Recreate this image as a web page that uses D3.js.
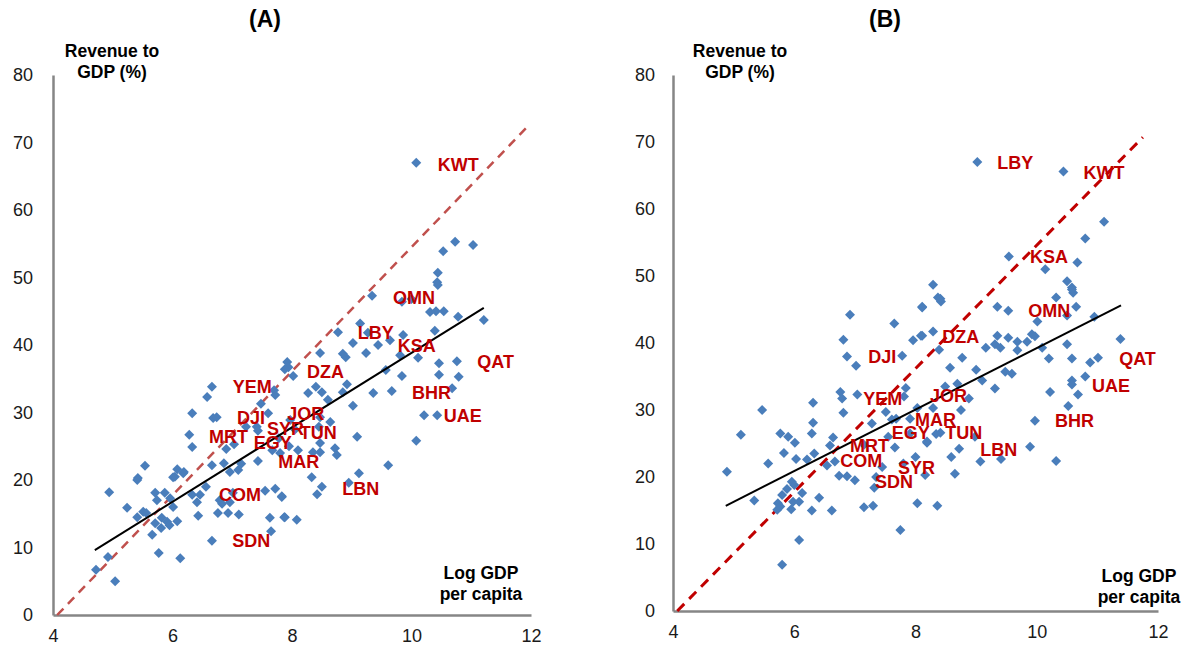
<!DOCTYPE html>
<html><head><meta charset="utf-8">
<script src="https://cdn.jsdelivr.net/npm/d3@7"></script>
<style>
body{margin:0;background:#fff;}
svg{display:block;font-family:"Liberation Sans",Arial,sans-serif;}
</style></head>
<body><svg id="c" width="1189" height="650"></svg>
<script>
// ---------- DATA ----------
const xTicks = [4, 6, 8, 10, 12];
const yTicks = [0, 10, 20, 30, 40, 50, 60, 70, 80];
const panelTitles = ["(A)", "(B)"];

const pointsA = [
[10.08,67.0],[10.53,53.9],[10.73,55.3],[11.03,54.8],[10.44,50.7],[10.43,49.3],[10.44,48.9],[9.34,47.3],[9.84,46.4],[10.0,46.8],
[10.31,44.9],[10.41,45.0],[10.54,45.0],[10.78,44.2],[11.21,43.7],[9.14,43.2],[8.77,41.9],[9.27,41.8],[9.64,40.7],[9.86,41.5],
[10.39,42.1],[9.44,40.0],[9.02,40.3],[8.47,38.8],[8.85,38.7],[8.90,38.2],[9.24,38.8],[9.81,38.5],[10.11,38.1],[10.46,37.3],
[10.76,37.6],[7.92,37.5],[7.94,36.7],[7.88,36.4],[8.02,35.4],[9.57,36.3],[9.84,35.4],[10.46,35.6],[10.79,35.3],[10.68,33.6],
[8.92,34.2],[8.40,33.8],[8.50,33.0],[8.27,32.9],[8.85,33.0],[9.36,32.9],[9.67,33.2],[8.60,31.9],[9.02,31.0],[10.21,29.6],
[10.43,29.6],[7.97,28.9],[8.47,29.3],[8.64,28.6],[8.45,27.9],[9.09,26.4],[10.08,25.8],[8.47,25.5],[8.10,24.4],[8.35,24.1],
[8.47,24.1],[8.72,24.7],[8.75,23.7],[9.61,22.2],[9.12,21.0],[8.33,20.4],[8.50,19.0],[8.42,17.9],[8.95,19.6],[7.83,17.5],
[7.87,14.5],[8.08,14.1],
[6.66,33.8],[6.58,32.3],[7.70,33.3],[7.72,32.6],[6.33,29.9],[6.68,29.2],[6.74,29.3],[7.48,31.3],[7.60,29.9],[7.23,27.9],
[7.41,27.9],[7.43,27.3],[6.28,26.7],[6.33,24.9],[7.03,25.3],[6.90,24.6],[7.43,22.8],[6.66,22.2],[6.86,22.5],[7.15,22.4],
[7.67,24.4],[7.80,24.0],[5.54,22.1],[6.08,21.6],[6.19,21.2],[6.96,21.2],[7.10,21.5],[5.42,20.3],[6.01,20.4],[7.95,25.0],
[8.05,27.5],[7.78,26.2],
[5.41,20.0],[4.94,18.2],[5.71,18.1],[5.87,18.1],[5.74,17.0],[5.96,17.3],[6.04,20.5],[6.18,21.0],[6.33,17.8],[6.46,17.8],
[6.41,16.7],[6.56,19.0],[6.01,16.0],[5.24,15.9],[5.51,15.3],[5.56,15.1],[5.41,14.5],[5.82,14.4],[5.91,13.8],[5.71,13.6],
[5.81,12.9],[5.95,13.3],[6.08,13.9],[5.66,11.9],[6.43,14.7],[6.76,15.1],[6.93,15.1],[7.11,14.9],[6.79,17.0],[6.83,16.5],
[6.96,16.7],[7.01,18.1],[6.66,11.0],[5.77,9.2],[6.13,8.4],[4.92,8.6],[4.72,6.7],[5.04,5.0],[7.55,18.4],[7.72,18.7],
[7.83,17.6],[7.63,14.4],[7.88,14.5],[7.65,12.4]
];

const pointsB = [
[8.29,48.7],[8.37,46.8],[9.02,67.0],[10.44,65.6],[11.11,58.1],[10.80,55.6],[9.54,52.9],[10.67,52.0],[10.14,51.0],[10.50,49.2],
[10.58,48.3],[10.60,47.5],[10.32,46.8],[8.41,46.6],[10.58,48.0],[8.42,46.2],[8.11,45.4],[9.35,45.4],[9.53,44.8],[10.65,45.4],
[10.50,44.1],[10.95,43.9],[10.01,43.2],[8.29,41.7],[8.11,41.1],[9.35,41.1],[9.53,40.8],[9.92,41.3],[9.97,41.0],[9.68,40.2],
[9.84,40.2],[11.38,40.6],[10.50,39.8],[9.31,39.8],[9.40,39.3],[9.16,39.3],[10.09,39.3],[9.68,38.9],[8.39,39.0],[8.77,37.8],
[10.20,37.7],[10.58,37.7],[11.01,37.8],[10.88,37.1],[8.57,36.3],[9.00,36.0],[9.48,35.7],[9.59,35.4],[9.10,34.4],[10.80,35.0],
[10.58,34.4],[10.58,33.8],[8.49,33.5],[8.69,33.9],[9.31,33.2],[10.22,32.7],[10.68,32.3],[8.88,31.7],[10.52,30.6],[8.29,30.3],
[8.75,30.0],[9.97,28.4],[8.41,26.6],[8.19,25.1],[8.72,24.2],[9.89,24.5],[8.98,26.0],[8.59,23.0],[9.07,22.3],[9.41,22.7],
[10.32,22.4],[8.65,20.5],
[8.11,45.3],[6.92,44.2],[7.65,42.9],[8.09,41.1],[7.96,40.4],[6.81,40.5],[7.78,38.1],[6.87,38.0],[7.02,36.6],[7.84,33.3],
[7.81,32.0],[6.76,32.7],[6.79,31.7],[7.04,32.3],[6.31,31.1],[5.47,30.0],[6.81,29.6],[6.31,28.1],[7.28,28.0],[7.51,29.7],
[7.61,28.6],[7.68,28.7],[7.91,28.7],[8.03,30.3],[5.12,26.3],[5.77,26.5],[5.90,26.0],[6.29,26.5],[6.01,25.1],[6.64,25.9],
[6.59,24.7],[5.83,23.6],[6.33,23.5],[6.03,22.7],[6.21,22.6],[5.57,22.0],[6.67,22.3],[6.54,21.7],[4.89,20.8],[7.66,24.4],
[8.19,25.3],[7.91,26.5],[8.34,26.4],[7.15,24.8],[6.74,20.2],[6.87,20.1],
[5.34,16.5],[5.96,19.3],[6.00,18.8],[5.88,18.2],[5.80,17.3],[6.13,17.6],[5.73,16.1],[5.98,16.3],[6.08,16.3],[5.72,15.1],
[5.77,15.6],[5.95,15.2],[6.41,16.9],[6.29,15.0],[6.62,15.0],[7.00,19.5],[7.32,18.4],[7.15,15.5],[7.30,15.7],[6.08,10.6],
[5.80,6.9],[7.75,12.1],[8.03,16.1],[8.36,15.7],[8.16,20.3],[7.45,21.5],[7.80,22.0],[8.00,23.0],[7.55,26.0],[7.35,20.0]
];

// country labels: [name, x, y] in data units (left anchor, vertical center)
const labelsA = [
["KWT",10.44,66.7],["OMN",9.69,47.1],["LBY",9.10,41.9],["KSA",9.77,39.9],["QAT",11.10,37.5],["DZA",8.25,36.1],
["BHR",10.01,33.0],["UAE",10.54,29.6],["JOR",7.92,29.9],["SYR",7.58,27.7],["TUN",8.13,27.1],["YEM",7.01,33.8],
["DJI",7.08,29.3],["MRT",6.61,26.4],["EGY",7.36,25.5],["MAR",7.77,22.7],["COM",6.78,17.8],["SDN",7.00,11.0],["LBN",8.84,18.7]
];
const labelsB = [
["LBY",9.35,67.0],["KWT",10.77,65.5],["KSA",9.89,52.9],["OMN",9.86,44.8],["DZA",8.44,41.0],["DJI",7.22,38.0],
["QAT",11.36,37.7],["UAE",10.91,33.6],["YEM",7.14,31.7],["JOR",8.24,32.1],["MAR",7.99,28.6],["BHR",10.30,28.4],
["TUN",8.49,26.6],["EGY",7.61,26.6],["LBN",9.07,24.1],["MRT",6.92,24.7],["COM",6.76,22.4],["SYR",7.71,21.4],["SDN",7.33,19.3]
];

// fitted line and reference (dashed) line end points
const fitA = [[4.70,9.6],[11.21,45.5]];
const refA = [[4.07,0],[11.98,72.7]];
const fitB = [[4.87,15.7],[11.39,45.6]];
const refB = [[4.07,0],[11.75,70.7]];

// ---------- DRAW ----------
const svg = d3.select("#c");

const panels = [
  {title:panelTitles[0], pts:pointsA, labels:labelsA, fit:fitA, ref:refA,
   xr:[53,531], yr:[615,75], titleX:265, refColor:"#C0504D", refW:2.5, refDash:"9,6.5",
   yPad:20, yTitleX:112, xTitleX:481, xTitleY:[573,594]},
  {title:panelTitles[1], pts:pointsB, labels:labelsB, fit:fitB, ref:refB,
   xr:[673,1158], yr:[611,75], titleX:885, refColor:"#C00000", refW:3, refDash:"10,7",
   yPad:18, yTitleX:740, xTitleX:1139, xTitleY:[576,597]}
];

const diamond = "M0,-5L5,0L0,5L-5,0Z";

panels.forEach(p => {
  const x = d3.scaleLinear().domain([4,12]).range(p.xr);
  const y = d3.scaleLinear().domain([0,80]).range(p.yr);
  const g = svg.append("g");

  // axes
  const ax = g.append("g").attr("transform",`translate(0,${p.yr[0]})`)
    .call(d3.axisBottom(x).tickValues(xTicks).tickSize(0).tickPadding(14).tickFormat(d3.format("d")));
  ax.select(".domain").attr("stroke","#868686").attr("stroke-width",2.5);
  ax.selectAll("text").attr("font-size",18).attr("fill","#1a1a1a").attr("font-family","Liberation Sans, Arial, sans-serif");

  const ay = g.append("g").attr("transform",`translate(${p.xr[0]},0)`)
    .call(d3.axisLeft(y).tickValues(yTicks).tickSize(0).tickPadding(p.yPad).tickFormat(d3.format("d")));
  ay.select(".domain").attr("stroke","#868686").attr("stroke-width",2.5);
  ay.selectAll("text").attr("font-size",18).attr("fill","#1a1a1a").attr("font-family","Liberation Sans, Arial, sans-serif");

  const line = d3.line().x(d=>x(d[0])).y(d=>y(d[1]));

  // reference dashed line
  g.append("path").attr("d",line(p.ref)).attr("fill","none")
    .attr("stroke",p.refColor).attr("stroke-width",p.refW).attr("stroke-dasharray",p.refDash);

  // points
  g.append("g").selectAll("path").data(p.pts).join("path")
    .attr("d",diamond).attr("transform",d=>`translate(${x(d[0])},${y(d[1])})`)
    .attr("fill","#4A7EBB");

  // fitted line
  g.append("path").attr("d",line(p.fit)).attr("fill","none")
    .attr("stroke","#000").attr("stroke-width",2);

  // labels
  g.append("g").selectAll("text").data(p.labels).join("text")
    .attr("x",d=>x(d[1])).attr("y",d=>y(d[2])).attr("dy","0.36em")
    .attr("font-size",18).attr("font-weight","bold").attr("fill","#C00000")
    .text(d=>d[0]);

  // titles
  g.append("text").attr("x",p.titleX).attr("y",27).attr("text-anchor","middle")
    .attr("font-size",23).attr("font-weight","bold").attr("fill","#000").text(p.title);

  g.append("text").attr("x",p.yTitleX).attr("y",57).attr("text-anchor","middle")
    .attr("font-size",17.5).attr("font-weight","bold").text("Revenue to");
  g.append("text").attr("x",p.yTitleX).attr("y",78).attr("text-anchor","middle")
    .attr("font-size",17.5).attr("font-weight","bold").text("GDP (%)");

  g.append("text").attr("x",p.xTitleX).attr("y",p.xTitleY[0]).attr("dy","0.36em").attr("text-anchor","middle")
    .attr("font-size",17.5).attr("font-weight","bold").text("Log GDP");
  g.append("text").attr("x",p.xTitleX).attr("y",p.xTitleY[1]).attr("dy","0.36em").attr("text-anchor","middle")
    .attr("font-size",17.5).attr("font-weight","bold").text("per capita");
});
</script></body></html>
